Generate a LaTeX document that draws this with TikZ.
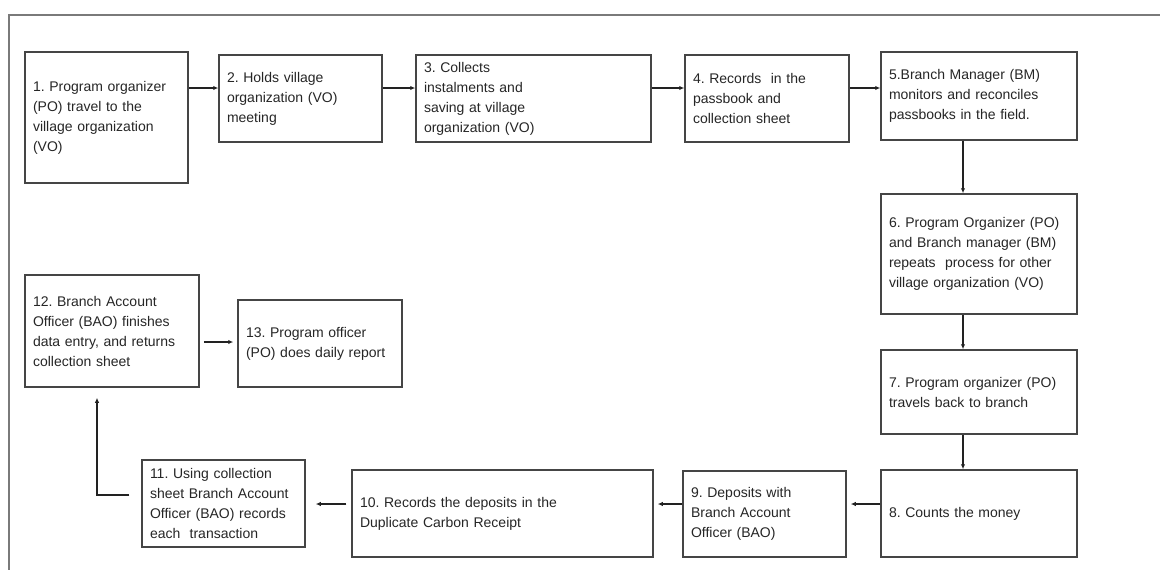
\documentclass[tikz,border=0pt]{standalone}
\usepackage{fontspec}
\setmainfont{Liberation Sans}
\usetikzlibrary{arrows.meta}
\definecolor{boxc}{HTML}{454545}
\definecolor{txtc}{HTML}{262626}
\definecolor{linec}{HTML}{222222}
\definecolor{framec}{HTML}{7A7A7A}
\tikzset{
  stepbox/.style={draw=boxc, line width=1.5pt, rectangle, inner sep=0pt,
    text=txtc, font=\fontsize{14}{20}\selectfont, align=left},
  arr/.style={draw=linec, line width=1.2pt, -{Latex[length=5pt,width=4.5pt]}},
}
% box macro: name, x1, y1, x2, y2, text
\newcommand{\mybox}[6]{%
  \pgfmathsetmacro{\bw}{#4-#2}%
  \pgfmathsetmacro{\bh}{#5-#3}%
  \pgfmathsetmacro{\tw}{#4-#2-16}%
  \node[stepbox, minimum width=\bw pt, minimum height=\bh pt, text width=\tw pt]
    (#1) at ({(#2+#4)/2},{(#3+#5)/2}) {#6};%
}
\frenchspacing
\begin{document}
\begin{tikzpicture}[x=1pt,y=-1pt]
\useasboundingbox (0,0) rectangle (1160,570);
\fill[white] (0,0) rectangle (1160,570);
\draw[framec, line width=1.6pt] (1170,15) -- (9,15) -- (9,580);

\mybox{n1}{25}{52}{188}{183}{1. Program organizer\\(PO) travel to the\\village organization\\(VO)}
\mybox{n2}{219}{55}{382}{142}{2. Holds village\\organization (VO)\\meeting}
\mybox{n3}{416}{55}{651}{142}{3. Collects\\instalments and\\saving at village\\organization (VO)}
\mybox{n4}{685}{55}{849}{142}{4. Records\ \ in the\\passbook and\\collection sheet}
\mybox{n5}{881}{52}{1077}{140}{5.Branch Manager (BM)\\monitors and reconciles\\passbooks in the field.}
\mybox{n6}{881}{194}{1077}{314}{6. Program Organizer (PO)\\and Branch manager (BM)\\repeats\ \ process for other\\village organization (VO)}
\mybox{n7}{881}{350}{1077}{434}{7. Program organizer (PO)\\travels back to branch}
\mybox{n8}{881}{470}{1077}{557}{8. Counts the money}
\mybox{n9}{683}{471}{846}{557}{9. Deposits with\\Branch Account\\Officer (BAO)}
\mybox{n10}{352}{470}{653}{557}{10. Records the deposits in the\\Duplicate Carbon Receipt}
\mybox{n11}{142}{460}{305}{547}{11. Using collection\\sheet Branch Account\\Officer (BAO) records\\each\ \ transaction}
\mybox{n12}{25}{275}{199}{387}{12. Branch Account\\Officer (BAO) finishes\\data entry, and returns\\collection sheet}
\mybox{n13}{238}{300}{402}{387}{13. Program officer\\(PO) does daily report}

% top row
\draw[arr] (n1.east |- 0,88) -- (n2.west |- 0,88);
\draw[arr] (n2.east |- 0,88) -- (n3.west |- 0,88);
\draw[arr] (n3.east |- 0,88) -- (n4.west |- 0,88);
\draw[arr] (n4.east |- 0,88) -- (n5.west |- 0,88);
% right column
\draw[arr] (n5.south -| 963,0) -- (n6.north -| 963,0);
\draw[arr] (n6.south -| 963,0) -- (n7.north -| 963,0);
\draw[arr] (n7.south -| 963,0) -- (n8.north -| 963,0);
% bottom row
\draw[arr, shorten >=4pt] (n8.west |- 0,504) -- (n9.east |- 0,504);
\draw[arr, shorten >=4pt] (n9.west |- 0,504) -- (n10.east |- 0,504);
\draw[arr, shorten <=5pt, shorten >=10pt] (n10.west |- 0,504) -- (n11.east |- 0,504);
% up to 12
\coordinate (c11) at (97,495);
\draw[arr, shorten >=10pt] ([xshift=-12pt]n11.west |- c11) -- (c11) -- (c11 |- n12.south);
% 12 -> 13
\draw[arr, shorten <=4pt, shorten >=4pt] (n12.east |- 0,342) -- (n13.west |- 0,342);
\end{tikzpicture}
\end{document}
